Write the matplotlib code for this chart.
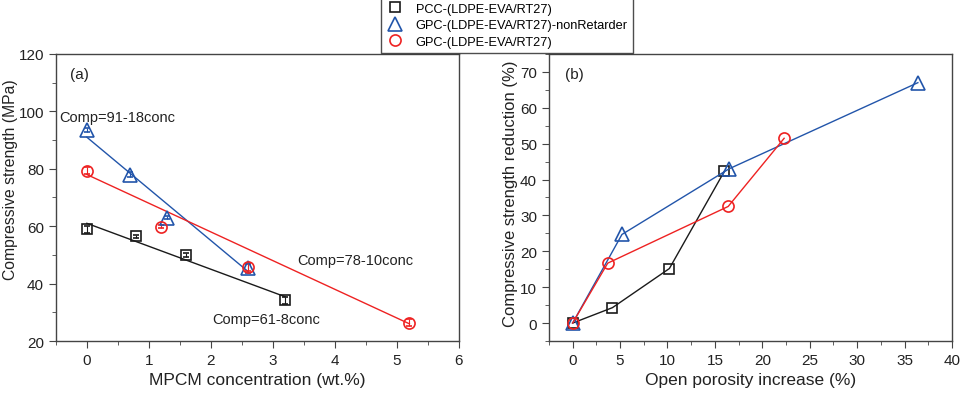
import matplotlib
matplotlib.use("Agg")
import matplotlib.pyplot as plt
from matplotlib.ticker import MultipleLocator
import numpy as np

plt.rcParams['font.family'] = ['Liberation Sans', 'DejaVu Sans']

# ---- Panel (a) data ----
pcc_conc = [0, 0.8, 1.6, 3.2]
pcc_strength = [59.0, 56.5, 50.0, 34.2]
pcc_err = [1.2, 0.6, 0.8, 1.2]

gnr_conc = [0, 0.7, 1.3, 2.6]
gnr_strength = [93.5, 78.0, 63.0, 45.3]
gnr_err = [0.8, 1.0, 0.6, 1.5]

gpc_conc = [0, 1.2, 2.6, 5.2]
gpc_strength = [79.3, 59.8, 45.8, 26.3]
gpc_err = [1.2, 0.5, 1.5, 1.2]

# fitted lines: Comp = a - b*conc
pcc_fit = (61, 8)
gnr_fit = (91, 18)
gpc_fit = (78, 10)

# ---- Panel (b) data ----
pcc_por = [0, 4.2, 10.2, 16.0]
pcc_red = [0, 4.3, 15.2, 42.3]
gnr_por = [0, 5.2, 16.5, 36.4]
gnr_red = [0, 24.7, 43.0, 67.0]
gpc_por = [0, 3.7, 16.4, 22.3]
gpc_red = [0, 16.7, 32.5, 51.5]

labels = ['PCC-(LDPE-EVA/RT27)', 'GPC-(LDPE-EVA/RT27)-nonRetarder', 'GPC-(LDPE-EVA/RT27)']
colors = ['#1a1a1a', '#2255aa', '#ee2222']
markers = ['s', '^', 'o']
msizes = [7, 9.5, 8]

fig = plt.figure(figsize=(9.63, 4.06), dpi=100)
ax1 = fig.add_axes([0.058, 0.1576, 0.4186, 0.707])
ax2 = fig.add_axes([0.570, 0.1576, 0.4186, 0.707])

spine_col = '#444444'
txt_col = '#222222'
for ax in (ax1, ax2):
    for s in ax.spines.values():
        s.set_color(spine_col)
        s.set_linewidth(1.0)
    ax.tick_params(which='both', direction='out', color=spine_col, top=False, right=False,
                   labelsize=11, labelcolor=txt_col)
    ax.tick_params(which='major', length=5)
    ax.tick_params(which='minor', length=3)

handles = []
# Panel (a)
for xs, ys, es, fit, c, m, s in [(pcc_conc, pcc_strength, pcc_err, pcc_fit, colors[0], markers[0], msizes[0]),
                                 (gnr_conc, gnr_strength, gnr_err, gnr_fit, colors[1], markers[1], msizes[1]),
                                 (gpc_conc, gpc_strength, gpc_err, gpc_fit, colors[2], markers[2], msizes[2])]:
    h = ax1.errorbar(xs, ys, yerr=es, fmt=m, mfc='none', mec=c, ecolor=c, ms=s, mew=1.2,
                     capsize=2.5, elinewidth=0.8)
    handles.append(h[0])
    xf = np.array([min(xs), max(xs)])
    ax1.plot(xf, fit[0] - fit[1] * xf, color=c, lw=1.0)

ax1.set_xlim(-0.5, 6)
ax1.set_ylim(20, 120)
ax1.xaxis.set_major_locator(MultipleLocator(1))
ax1.xaxis.set_minor_locator(MultipleLocator(0.5))
ax1.yaxis.set_major_locator(MultipleLocator(20))
ax1.yaxis.set_minor_locator(MultipleLocator(10))
ax1.set_xlabel('MPCM concentration (wt.%)', fontsize=12.5, color=txt_col)
ax1.set_ylabel('Compressive strength (MPa)', fontsize=11.3, color=txt_col)
ax1.yaxis.set_label_coords(-0.094, 0.565)
ax1.text(0.035, 0.955, '(a)', transform=ax1.transAxes, fontsize=11, va='top', color=txt_col)
ax1.text(-0.45, 98.0, 'Comp=91-18conc', fontsize=10.5, ha='left', va='center', color=txt_col)
ax1.text(3.40, 48.2, 'Comp=78-10conc', fontsize=10.5, ha='left', va='center', color=txt_col)
ax1.text(2.02, 27.7, 'Comp=61-8conc', fontsize=10.5, ha='left', va='center', color=txt_col)

# Panel (b)
for xs, ys, c, m, s in [(pcc_por, pcc_red, colors[0], markers[0], msizes[0]),
                        (gnr_por, gnr_red, colors[1], markers[1], msizes[1]),
                        (gpc_por, gpc_red, colors[2], markers[2], msizes[2])]:
    ax2.plot(xs, ys, color=c, lw=1.0, marker=m, mfc='none', mec=c, ms=s, mew=1.2)

ax2.set_xlim(-2.5, 40)
ax2.set_ylim(-5, 75)
ax2.xaxis.set_major_locator(MultipleLocator(5))
ax2.xaxis.set_minor_locator(MultipleLocator(2.5))
ax2.yaxis.set_major_locator(MultipleLocator(10))
ax2.yaxis.set_minor_locator(MultipleLocator(5))
ax2.set_xlabel('Open porosity increase (%)', fontsize=12.5, color=txt_col)
ax2.set_ylabel('Compressive strength reduction (%)', fontsize=12.0, color=txt_col)
ax2.yaxis.set_label_coords(-0.077, 0.517)
ax2.text(0.04, 0.955, '(b)', transform=ax2.transAxes, fontsize=11, va='top', color=txt_col)

leg = fig.legend(handles, labels, loc='upper center', bbox_to_anchor=(0.5265, 1.005),
                 fontsize=9.2, frameon=True, fancybox=False, edgecolor='#222222',
                 handletextpad=0.9, borderpad=0.45, labelspacing=0.35, handlelength=1.4,
                 borderaxespad=0.0)
leg.get_frame().set_linewidth(1.0)

fig.savefig('out.png', dpi=100)
